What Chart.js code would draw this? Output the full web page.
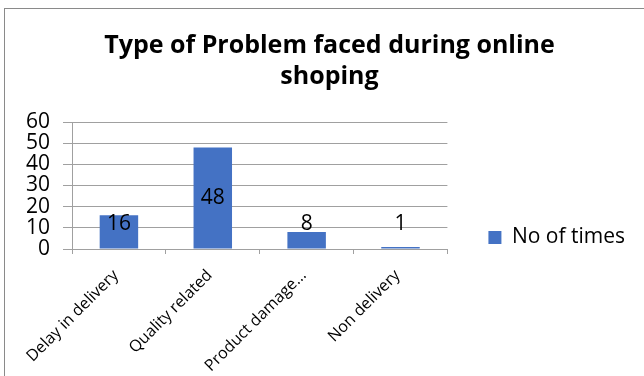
<!DOCTYPE html>
<html>
<head>
<meta charset="utf-8">
<title>Type of Problem faced during online shoping</title>
<script src="https://cdn.jsdelivr.net/npm/chart.js@4/dist/chart.umd.min.js"></script>
<style>
  html, body { margin: 0; padding: 0; background: #fff; }
  .frame { position: relative; width: 644px; height: 376px; overflow: hidden; }
  .frame canvas { position: absolute; left: 0; top: 0; }
  /* chart border: only the left and top edges are in view */
  .edge { position: absolute; left: 4px; top: 8px; right: -4px; bottom: -4px;
          border-left: 1.5px solid #8a8a8a; border-top: 1.5px solid #8a8a8a; pointer-events: none; }
</style>
</head>
<body>
<div class="frame">
  <canvas id="problemChart" width="644" height="376"></canvas>
  <div class="edge"></div>
</div>
<script>
const categories = ['Delay in delivery', 'Quality related', 'Product damage...', 'Non delivery'];
const noOfTimes = [16, 48, 8, 1];
const yTicks = [0, 10, 20, 30, 40, 50, 60];
const titleLines = ['Type of Problem faced during online', 'shoping'];
const seriesName = 'No of times';

const FONT = "'Open Sans', sans-serif";
const BAR_BLUE = '#4472C4';
const GRID = '#a0a0a0';

// value labels: centred in the bar, but never lower than just above the base
const valueLabels = {
    id: 'valueLabels',
    afterDatasetsDraw(chart) {
        const { ctx } = chart;
        const meta = chart.getDatasetMeta(0);
        ctx.save();
        ctx.font = `21px ${FONT}`;
        ctx.fillStyle = '#000';
        ctx.textAlign = 'center';
        ctx.textBaseline = 'middle';
        meta.data.forEach((bar, i) => {
            const y = Math.min((bar.y + bar.base) / 2, bar.base - 24);
            ctx.fillText(String(noOfTimes[i]), bar.x, y);
        });
        ctx.restore();
    }
};

const ctx = document.getElementById('problemChart').getContext('2d');
new Chart(ctx, {
    type: 'bar',
    data: {
        labels: categories,
        datasets: [{
            label: seriesName,
            data: noOfTimes,
            backgroundColor: BAR_BLUE,
            borderWidth: 0,
            categoryPercentage: 1,
            barPercentage: 0.41
        }]
    },
    options: {
        responsive: false,
        animation: false,
        layout: { padding: { left: 24, right: 9, top: 0, bottom: 0 } },
        plugins: {
            title: {
                display: true,
                text: titleLines,
                color: '#000',
                font: { family: FONT, size: 25, weight: 'bold', lineHeight: 1.24 },
                padding: { top: 30, bottom: 30 }
            },
            legend: {
                position: 'right',
                align: 'end',
                fullSize: false,
                labels: {
                    color: '#000',
                    font: { family: FONT, size: 21 },
                    boxWidth: 13,
                    boxHeight: 13,
                    padding: 1
                }
            },
            tooltip: { enabled: false }
        },
        scales: {
            x: {
                grid: { drawOnChartArea: false, drawTicks: true, tickLength: 5, color: GRID },
                border: { display: true, color: GRID },
                ticks: {
                    color: '#000',
                    font: { family: FONT, size: 16 },
                    minRotation: 45,
                    maxRotation: 45,
                    autoSkip: false,
                    labelOffset: -3,
                    padding: 12
                },
                afterFit(scale) { scale.height = 127; }
            },
            y: {
                min: 0,
                max: 60,
                grid: { color: GRID, tickLength: 9 },
                border: { display: true, color: GRID },
                afterBuildTicks(scale) { scale.ticks = yTicks.map(v => ({ value: v })); },
                ticks: {
                    color: '#000',
                    font: { family: FONT, size: 21 },
                    autoSkip: false,
                    padding: 13
                },
                afterFit(scale) { scale.width = 48; }
            },
            // hidden axis, only there to keep the legend clear of the plot
            gap: {
                type: 'linear',
                position: 'right',
                display: false,
                afterFit(scale) { scale.width = 40; }
            }
        }
    },
    plugins: [valueLabels]
});
</script>
</body>
</html>
